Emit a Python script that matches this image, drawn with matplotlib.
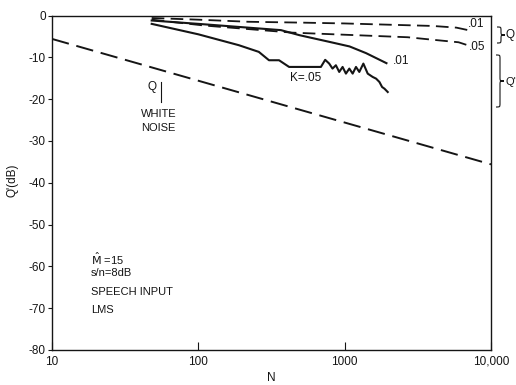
import numpy as np
import matplotlib
matplotlib.use("Agg")
import matplotlib.pyplot as plt
from matplotlib.path import Path
from matplotlib.patches import PathPatch
from matplotlib.transforms import IdentityTransform

plt.rcParams['font.family'] = ['Liberation Sans', 'DejaVu Sans']

# ---- data ----
N_white = [10, 10000]
Q_white = [-5.6, -35.6]

N_q01 = [48, 100, 220, 500, 1000, 2000, 4000, 5800, 7200]
Q_q01 = [-0.6, -1.0, -1.5, -1.7, -1.9, -2.2, -2.5, -2.9, -3.6]

N_q05 = [48, 110, 440, 1000, 2700, 4000, 6000, 7200]
Q_q05 = [-1.0, -2.4, -4.1, -4.6, -5.2, -5.8, -6.4, -7.3]

N_qp01 = [48, 100, 200, 367, 490, 785, 1080, 1400, 1930]
Q_qp01 = [-1.2, -2.0, -2.8, -3.5, -4.7, -6.3, -7.4, -9.0, -11.4]

N_qp05 = [48, 100, 189, 259, 304, 356, 417, 688, 736, 784, 826, 871, 918, 968,
          1020, 1076, 1134, 1195, 1259, 1342, 1437, 1555, 1640, 1728, 1802, 1870, 1969]
Q_qp05 = [-2.0, -4.5, -7.1, -8.7, -10.7, -10.7, -12.3, -12.3, -10.6, -11.5, -12.7,
          -11.9, -13.5, -12.3, -13.9, -12.7, -13.9, -12.3, -13.5, -11.5, -13.9,
          -14.7, -15.1, -15.9, -17.1, -17.5, -18.3]

x_ticks = [10, 100, 1000, 10000]
x_labels = ['10', '100', '1000', '10,000']
y_ticks = [0, -10, -20, -30, -40, -50, -60, -70, -80]
y_labels = ['0', '-10', '-20', '-30', '-40', '-50', '-60', '-70', '-80']

W, H = 516, 385
fig = plt.figure(figsize=(W / 100, H / 100), dpi=100)
L, R, T, B = 52, 491, 15.5, 350
ax = fig.add_axes([L / W, 1 - B / H, (R - L) / W, (B - T) / H])

ink = '#151515'
ax.plot(N_white, Q_white, color=ink, lw=1.4, dashes=(9, 4))
ax.plot(N_q01, Q_q01, color=ink, lw=1.3, dashes=(7, 3.5))
ax.plot(N_q05, Q_q05, color=ink, lw=1.3, dashes=(7, 3.5))
ax.plot(N_qp01, Q_qp01, color=ink, lw=1.5)
ax.plot(N_qp05, Q_qp05, color=ink, lw=1.5)

ax.set_xscale('log')
ax.set_xlim(10, 10000)
ax.set_ylim(-80, 0)
ax.set_xticks(x_ticks)
ax.set_xticklabels(x_labels)
ax.minorticks_off()
ax.set_yticks(y_ticks)
ax.set_yticklabels(y_labels)
ax.tick_params(axis='x', direction='in', length=6, width=0.8, pad=4,
               labelsize=8.5, colors=ink)
ax.tick_params(axis='y', direction='out', length=3, width=0.8, pad=1.5,
               labelsize=8.5, colors=ink)
for s in ax.spines.values():
    s.set_linewidth(1.0)
    s.set_color(ink)

fs = 8.5
ax.set_xlabel('N', fontsize=fs, color=ink, labelpad=3)
fig.text(12.5 / W, 1 - 180 / H, "Q'(dB)", rotation=90, ha='center', va='center',
         fontsize=fs, color=ink)

# curve labels
ax.text(7000, -2.0, '.01', fontsize=fs, color=ink, ha='left', va='center')
ax.text(7100, -7.6, '.05', fontsize=fs, color=ink, ha='left', va='center')
ax.text(2120, -10.9, '.01', fontsize=fs, color=ink, ha='left', va='center')
ax.text(541, -14.9, 'K=.05', fontsize=fs, color=ink, ha='center', va='center')
ax.text(48.5, -17.0, 'Q', fontsize=fs, color=ink, ha='center', va='center')
ax.plot([56, 56], [-15.8, -20.8], color=ink, lw=0.8)
ax.text(54, -23.5, 'WHITE', fontsize=8, color=ink, ha='center', va='center')
ax.text(53.5, -27.0, 'NOISE', fontsize=8, color=ink, ha='center', va='center')

# info block (baselines)
info_y = [-59.7, -62.3, -66.8, -71.2]
info_t = [r'$\hat{\mathrm{M}}$ =15', 's/n=8dB', 'SPEECH INPUT', 'LMS']
for yy, tt in zip(info_y, info_t):
    ax.text(18.5, yy, tt, fontsize=8, color=ink, ha='left', va='baseline')


def brace(x0, ytop, ybot, w):
    # pixel coords (origin top-left) -> display coords
    def d(x, y):
        return (x, H - y)
    ym = (ytop + ybot) / 2
    r = min(4, (ybot - ytop) / 4)
    xm = x0 + w / 2
    verts = [d(x0, ytop), d(xm, ytop), d(xm, ytop), d(xm, ytop + r),
             d(xm, ym - r),
             d(xm, ym), d(xm, ym), d(x0 + w, ym),
             d(xm, ym), d(xm, ym), d(xm, ym + r),
             d(xm, ybot - r),
             d(xm, ybot), d(xm, ybot), d(x0, ybot)]
    codes = [Path.MOVETO, Path.CURVE4, Path.CURVE4, Path.CURVE4,
             Path.LINETO,
             Path.CURVE4, Path.CURVE4, Path.CURVE4,
             Path.CURVE4, Path.CURVE4, Path.CURVE4,
             Path.LINETO,
             Path.CURVE4, Path.CURVE4, Path.CURVE4]
    p = PathPatch(Path(verts, codes), transform=IdentityTransform(),
                  fill=False, lw=0.8, edgecolor=ink)
    fig.add_artist(p)


brace(497, 27, 43, 8)
fig.text(506 / W, 1 - 35 / H, 'Q', fontsize=fs, color=ink, ha='left', va='center')
brace(496, 55, 107, 8)
fig.text(505 / W, 1 - 82 / H, "Q'", fontsize=8, color=ink, ha='left', va='center')

fig.savefig('out.png', dpi=100)
